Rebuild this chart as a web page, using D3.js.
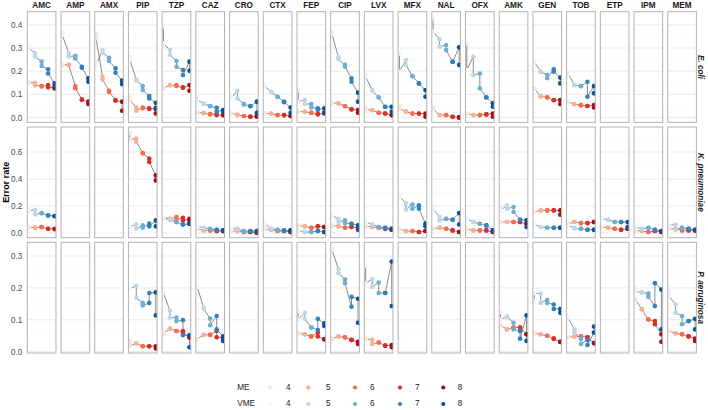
<!DOCTYPE html>
<html><head><meta charset="utf-8">
<script src="https://cdn.jsdelivr.net/npm/d3@7"></script>
<style>body{margin:0;background:#fff;font-family:"Liberation Sans",Arial,sans-serif;}</style>
</head><body><svg id="c" width="708" height="410"></svg>
<script>
const drugs = ["AMC","AMP","AMX","PIP","TZP","CAZ","CRO","CTX","FEP","CIP","LVX","MFX","NAL","OFX","AMK","GEN","TOB","ETP","IPM","MEM"];
const species = ["E. coli","K. pneumoniae","P. aeruginosa"];
const xLevels = [4,5,6,7,8];
const meColors = ["#FEE5D9","#FCAE91","#FB6A4A","#DE2D26","#A50F15"];
const vmeColors = ["#EFF3FF","#BDD7E7","#6BAED6","#3182BD","#08519C"];
const yTicks = [[0,0.1,0.2,0.3,0.4],[0,0.2,0.4,0.6],[0,0.1,0.2,0.3]];
const yMinor = [[0.05,0.15,0.25,0.35,0.45],[0.1,0.3,0.5,0.7],[0.05,0.15,0.25]];

// each entry: two values per level 4..8 (in line order), null = no data
const ecoliME = [
 [0.154,0.15,0.15,0.139,0.136,0.134,0.14,0.13,0.13,0.125],
 [0.229,0.225,0.229,0.225,0.136,0.126,0.078,0.075,0.068,0.058],
 [0.364,0.342,0.176,0.164,0.115,0.11,0.075,0.072,0.068,0.029],
 [0.089,0.075,0.043,0.029,0.043,0.04,0.039,0.036,0.04,0.017],
 [0.126,0.124,0.14,0.138,0.14,0.136,0.13,0.128,0.14,0.115],
 [0.02,0.02,0.02,0.018,0.014,0.014,0.014,0.01,0.01,0.01],
 [0.02,0.018,0.012,0.01,0.006,0.006,0.004,0.003,0.003,0.01],
 [0.017,0.017,0.017,0.016,0.01,0.01,0.01,0.01,0.006,0.006],
 [0.025,0.025,0.025,0.024,0.02,0.02,0.014,0.014,0.02,0.02],
 [0.063,0.062,0.061,0.06,0.049,0.048,0.035,0.034,0.032,0.02],
 [0.035,0.034,0.032,0.031,0.02,0.02,0.017,0.017,0.01,0.01],
 [0.049,0.039,0.025,0.025,0.017,0.017,0.017,0.016,0.017,0.003],
 [0.039,0.035,0.01,0.01,0.01,0.01,0.003,0.003,0.0,0.0],
 [0.017,0.017,0.01,0.01,0.01,0.01,0.013,0.013,0.017,0.003],
 null,
 [0.126,0.124,0.092,0.09,0.087,0.086,0.075,0.074,0.075,0.058],
 [0.068,0.067,0.058,0.057,0.053,0.053,0.049,0.049,0.053,0.043],
 null, null, null];
const ecoliVME = [
 [0.315,0.30,0.277,0.263,0.241,0.222,0.208,0.19,0.147,0.136],
 [0.368,0.356,0.277,0.263,0.266,0.255,0.219,0.215,0.169,0.154],
 [0.241,0.225,0.291,0.28,0.258,0.244,0.212,0.193,0.159,0.144],
 [0.263,0.25,0.164,0.16,0.136,0.118,0.092,0.082,0.063,0.035],
 [0.392,0.32,0.291,0.27,0.244,0.219,0.205,0.183,0.241,0.202],
 [0.097,0.075,0.061,0.058,0.049,0.048,0.042,0.025,0.032,0.025],
 [0.09,0.082,0.115,0.082,0.058,0.056,0.049,0.048,0.068,0.02],
 [0.144,0.136,0.111,0.11,0.089,0.088,0.068,0.066,0.043,0.02],
 [0.118,0.068,0.075,0.058,0.058,0.043,0.039,0.032,0.039,0.017],
 [0.371,0.36,0.26,0.251,0.227,0.219,0.169,0.154,0.107,0.068],
 [0.19,0.176,0.118,0.116,0.087,0.086,0.046,0.045,0.046,0.025],
 [0.277,0.198,0.248,0.227,0.179,0.178,0.147,0.146,0.118,0.089],
 [0.429,0.371,0.338,0.306,0.313,0.291,0.241,0.24,0.303,0.227],
 [0.32,0.205,0.263,0.183,0.19,0.126,0.087,0.086,0.061,0.046],
 null,
 [0.241,0.24,0.198,0.197,0.183,0.169,0.208,0.198,0.172,0.147],
 [0.19,0.189,0.14,0.139,0.136,0.135,0.154,0.089,0.136,0.104],
 null, null, null];
const kpneuME = [
 [0.045,0.044,0.04,0.04,0.045,0.044,0.032,0.032,0.03,0.03],
 null, null,
 [0.741,0.692,0.70,0.675,0.593,0.59,0.551,0.526,0.427,0.39],
 [0.114,0.113,0.106,0.105,0.119,0.099,0.114,0.094,0.106,0.094],
 [0.032,0.031,0.02,0.02,0.02,0.02,0.015,0.015,0.015,0.015],
 [0.015,0.015,0.015,0.015,0.008,0.008,0.008,0.008,0.003,0.003],
 [0.032,0.031,0.025,0.025,0.015,0.015,0.015,0.015,0.008,0.008],
 [0.057,0.056,0.05,0.05,0.04,0.04,0.05,0.05,0.045,0.045],
 [0.057,0.056,0.05,0.05,0.04,0.04,0.045,0.045,0.04,0.04],
 [0.05,0.05,0.045,0.045,0.04,0.04,0.032,0.032,0.025,0.025],
 [0.032,0.032,0.015,0.015,0.015,0.015,0.008,0.008,0.015,0.015],
 [0.032,0.032,0.04,0.04,0.032,0.032,0.02,0.02,0.008,0.008],
 [0.032,0.032,0.02,0.02,0.02,0.02,0.02,0.02,0.008,0.008],
 [0.082,0.082,0.082,0.082,0.082,0.082,0.082,0.082,0.069,0.069],
 [0.156,0.156,0.168,0.168,0.168,0.168,0.168,0.168,0.168,0.136],
 [0.069,0.069,0.082,0.082,0.074,0.074,0.074,0.074,0.082,0.082],
 [0.045,0.045,0.04,0.04,0.032,0.032,0.025,0.025,0.032,0.032],
 [0.02,0.02,0.015,0.015,0.008,0.008,0.015,0.015,0.008,0.008],
 [0.032,0.032,0.032,0.032,0.02,0.02,0.02,0.02,0.02,0.02]];
const kpneuVME = [
 [0.173,0.165,0.173,0.138,0.148,0.147,0.131,0.13,0.126,0.125],
 null, null,
 [0.045,0.044,0.065,0.032,0.057,0.04,0.07,0.05,0.094,0.05],
 [0.119,0.118,0.099,0.098,0.082,0.081,0.064,0.064,0.069,0.069],
 [0.05,0.05,0.04,0.04,0.032,0.032,0.025,0.025,0.02,0.02],
 [0.035,0.035,0.032,0.032,0.015,0.015,0.015,0.015,0.015,0.015],
 [0.07,0.07,0.032,0.032,0.025,0.025,0.02,0.02,0.02,0.02],
 [0.02,0.02,0.008,0.008,0.008,0.008,0.015,0.015,0.008,0.008],
 [0.131,0.13,0.106,0.082,0.094,0.074,0.069,0.069,0.057,0.025],
 [0.082,0.082,0.064,0.064,0.045,0.045,0.04,0.04,0.032,0.032],
 [0.286,0.272,0.222,0.173,0.212,0.18,0.205,0.18,0.07,0.05],
 [0.18,0.18,0.119,0.094,0.106,0.106,0.099,0.099,0.148,0.064],
 [0.106,0.106,0.082,0.082,0.069,0.069,0.057,0.057,0.02,0.02],
 [0.187,0.168,0.205,0.18,0.193,0.156,0.099,0.099,0.094,0.045],
 [0.064,0.064,0.045,0.045,0.04,0.04,0.04,0.04,0.04,0.04],
 [0.057,0.057,0.04,0.032,0.032,0.032,0.025,0.025,0.025,0.025],
 [0.106,0.106,0.099,0.099,0.082,0.082,0.082,0.082,0.082,0.045],
 [0.045,0.045,0.032,0.032,0.04,0.04,0.025,0.025,0.015,0.015],
 [0.057,0.057,0.064,0.025,0.04,0.04,0.032,0.032,0.025,0.025]];
const paerME = [
 null, null, null,
 [0.034,0.019,0.026,0.026,0.017,0.017,0.017,0.017,0.017,0.01],
 [0.057,0.057,0.072,0.072,0.065,0.065,0.065,0.06,0.045,0.045],
 [0.039,0.039,0.053,0.053,0.053,0.053,0.065,0.045,0.045,0.039],
 null, null,
 [0.058,0.058,0.055,0.055,0.048,0.048,0.06,0.048,0.039,0.039],
 [0.041,0.041,0.048,0.048,0.045,0.045,0.037,0.037,0.031,0.024],
 [0.041,0.041,0.037,0.024,0.029,0.029,0.019,0.019,0.021,0.014],
 null, null, null,
 [0.083,0.083,0.07,0.07,0.076,0.076,0.076,0.076,0.055,0.055],
 [0.058,0.058,0.055,0.055,0.05,0.05,0.041,0.041,0.031,0.031],
 [0.045,0.045,0.048,0.048,0.048,0.048,0.045,0.045,0.027,0.027],
 null,
 [0.164,0.164,0.133,0.133,0.101,0.101,0.096,0.086,0.055,0.031],
 [0.065,0.065,0.058,0.058,0.055,0.055,0.048,0.048,0.041,0.034]];
const paerVME = [
 null, null, null,
 [0.197,0.197,0.207,0.169,0.153,0.145,0.153,0.184,0.186,0.114],
 [0.184,0.184,0.129,0.107,0.107,0.096,0.099,0.052,0.052,0.014],
 [0.203,0.203,0.138,0.134,0.104,0.083,0.112,0.07,0.048,0.034],
 null, null,
 [0.127,0.101,0.122,0.103,0.076,0.076,0.068,0.103,0.089,0.081],
 [0.33,0.319,0.259,0.246,0.226,0.215,0.141,0.172,0.166,0.091],
 [0.269,0.215,0.228,0.203,0.217,0.184,0.184,0.184,0.283,0.143],
 null, null, null,
 [0.124,0.101,0.11,0.11,0.091,0.07,0.065,0.041,0.114,0.034],
 [0.158,0.184,0.182,0.153,0.163,0.153,0.148,0.134,0.134,0.122],
 [0.107,0.107,0.07,0.06,0.041,0.024,0.037,0.021,0.06,0.079],
 null,
 [0.203,0.189,0.186,0.186,0.182,0.172,0.143,0.215,0.195,0.07],
 [0.189,0.174,0.148,0.122,0.112,0.086,0.096,0.096,0.103,0.07]];

const meData = [ecoliME, kpneuME, paerME];
const vmeData = [ecoliVME, kpneuVME, paerVME];

const svg = d3.select("#c");
const font = '"Liberation Sans",Arial,sans-serif';
const colScale = d3.scaleBand().domain(drugs).range([27.3, 696.4]).paddingInner(0.15);
const rowScale = d3.scaleBand().domain(species).range([11.7, 353]).paddingInner(0.04);
const yDomains = [[-0.0216,0.457],[-0.034,0.785],[-0.004,0.343]];
const meColor = d3.scaleOrdinal().domain(xLevels).range(meColors);
const vmeColor = d3.scaleOrdinal().domain(xLevels).range(vmeColors);

const defs = svg.append("defs");

species.forEach((sp, ri) => {
  const top = rowScale(sp), h = rowScale.bandwidth();
  const y = d3.scaleLinear().domain(yDomains[ri]).range([top + h, top]);
  // y axis labels
  const ax = svg.append("g").attr("transform", `translate(${colScale(drugs[0]) - 3},0)`)
    .call(d3.axisLeft(y).tickValues(yTicks[ri]).tickFormat(d3.format(".1f")).tickSize(0).tickPadding(2));
  ax.select(".domain").remove();
  ax.selectAll("text").attr("font-family", font).attr("font-size", 8.2).attr("fill", "#4D4D4D");

  drugs.forEach((dr, ci) => {
    const left = colScale(dr), w = colScale.bandwidth();
    const x = d3.scaleLinear().domain([3.8, 8.2]).range([left, left + w]);
    const id = `clip-${ri}-${ci}`;
    defs.append("clipPath").attr("id", id).append("rect")
      .attr("x", left).attr("y", top).attr("width", w).attr("height", h);
    const g = svg.append("g");
    g.selectAll("line.minor").data(yMinor[ri]).join("line")
      .attr("x1", left).attr("x2", left + w).attr("y1", d => y(d)).attr("y2", d => y(d))
      .attr("stroke", "#F5F5F5").attr("stroke-width", 0.55);
    g.selectAll("line.major").data(yTicks[ri]).join("line")
      .attr("x1", left).attr("x2", left + w).attr("y1", d => y(d)).attr("y2", d => y(d))
      .attr("stroke", "#EBEBEB").attr("stroke-width", 1);
    const pg = g.append("g").attr("clip-path", `url(#${id})`);
    const series = [
      {vals: meData[ri][ci], col: meColor},
      {vals: vmeData[ri][ci], col: vmeColor}
    ];
    const lineGen = d3.line().x(d => x(d.x)).y(d => y(d.y));
    const ptsAll = [];
    series.forEach(s => {
      if (!s.vals) return;
      const pts = s.vals.map((v, i) => ({x: xLevels[Math.floor(i / 2)], y: v, c: s.col(xLevels[Math.floor(i / 2)])}));
      pg.append("path").attr("d", lineGen(pts)).attr("fill", "none")
        .attr("stroke", "#5A5A5A").attr("stroke-width", 0.7);
      ptsAll.push(...pts);
    });
    pg.selectAll("circle").data(ptsAll).join("circle")
      .attr("cx", d => x(d.x)).attr("cy", d => y(d.y)).attr("r", 2.3).attr("fill", d => d.c);
    g.append("rect").attr("x", left).attr("y", top).attr("width", w).attr("height", h)
      .attr("fill", "none").attr("stroke", "#B3B3B3").attr("stroke-width", 1);
    if (ri === 0) {
      svg.append("text").attr("x", left + w / 2).attr("y", 7.5).attr("text-anchor", "middle")
        .attr("font-family", font).attr("font-size", 8.2).attr("font-weight", "bold").attr("fill", "#1A1A1A").text(dr);
    }
  });
  svg.append("text").attr("transform", `translate(${700},${top + h / 2}) rotate(90)`)
    .attr("text-anchor", "middle").attr("dominant-baseline", "middle")
    .attr("font-family", font).attr("font-size", 8.2).attr("font-weight", "bold").attr("font-style", "italic")
    .attr("fill", "#1A1A1A").text(sp);
});

svg.append("text").attr("transform", `translate(7,${(11.7 + 353) / 2}) rotate(-90)`)
  .attr("text-anchor", "middle").attr("dominant-baseline", "middle")
  .attr("font-family", font).attr("font-size", 9).attr("font-weight", "bold").text("Error rate");

// legend
const keyX = [270, 308.3, 355, 400, 443.3];
const labX = [288.3, 328.3, 372.3, 417.3, 460];
[["ME", meColor, 387.5], ["VME", vmeColor, 404]].forEach(([title, col, yy]) => {
  svg.append("text").attr("x", 237.3).attr("y", yy).attr("dominant-baseline", "middle")
    .attr("font-family", font).attr("font-size", 8.2).attr("fill", "#1A1A1A").text(title);
  xLevels.forEach((lv, i) => {
    svg.append("circle").attr("cx", keyX[i]).attr("cy", yy).attr("r", 2.1).attr("fill", col(lv));
    svg.append("text").attr("x", labX[i]).attr("y", yy).attr("text-anchor", "middle").attr("dominant-baseline", "middle")
      .attr("font-family", font).attr("font-size", 8.2).attr("fill", "#1A1A1A").text(lv);
  });
});
</script></body></html>
